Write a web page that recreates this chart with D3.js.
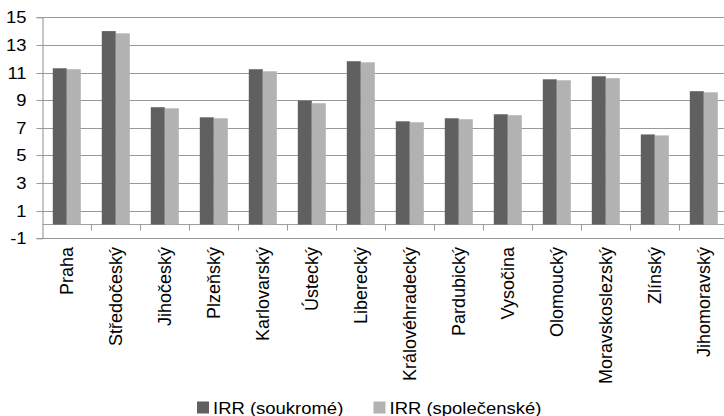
<!DOCTYPE html>
<html>
<head>
<meta charset="utf-8">
<script src="https://cdn.jsdelivr.net/npm/d3@7"></script>
<style>
  html, body { margin: 0; padding: 0; background: #fff; }
  svg { display: block; font-family: "Liberation Sans", Arial, sans-serif; }
</style>
</head>
<body>
<svg id="chart" width="724" height="416"></svg>
<script>
// Regions of the Czech Republic
const categories = ["Praha", "Středočeský", "Jihočeský", "Plzeňský", "Karlovarský", "Ústecký",
  "Liberecký", "Královéhradecký", "Pardubický", "Vysočina", "Olomoucký", "Moravskoslezský",
  "Zlínský", "Jihomoravský"];

const seriesNames = ["IRR (soukromé)", "IRR (společenské)"];

const irrSoukrome = [11.31, 14.0, 8.49, 7.76, 11.24, 8.97, 11.82, 7.47, 7.69, 7.98, 10.51, 10.73, 6.52, 9.65];
const irrSpolecenske = [11.24, 13.84, 8.41, 7.69, 11.09, 8.78, 11.74, 7.40, 7.62, 7.91, 10.44, 10.59, 6.45, 9.57];

const yTicks = [-1, 1, 3, 5, 7, 9, 11, 13, 15];
const yDomain = [-1, 15];

const colors = ["#606060", "#b2b2b2"];

const seriesValues = [irrSoukrome, irrSpolecenske];
const rows = categories.map((c, i) => ({
  category: c,
  values: seriesNames.map((s, j) => ({ series: s, value: seriesValues[j][i] }))
}));

const svg = d3.select("#chart");

const plotLeft = 42.3, plotTop = 17.3, plotBottom = 238.3;
const step = 49;
const plotRight = plotLeft + step * categories.length;

const y = d3.scaleLinear().domain(yDomain).range([plotBottom, plotTop]);
const x0 = d3.scaleBand().domain(categories).range([plotLeft, plotRight]).padding(0);
const x1 = d3.scaleBand().domain(seriesNames).range([0, x0.bandwidth()])
  .paddingInner(0).paddingOuter(0.75);
const color = d3.scaleOrdinal().domain(seriesNames).range(colors);

// horizontal gridlines
svg.append("g")
  .selectAll("line")
  .data(yTicks)
  .join("line")
  .attr("x1", plotLeft).attr("x2", plotRight)
  .attr("y1", d => Math.round(y(d)) + 0.5).attr("y2", d => Math.round(y(d)) + 0.5)
  .attr("stroke", "#999")
  .attr("stroke-width", 1);

// value axis
const yAxis = d3.axisLeft(y).tickValues(yTicks).tickSize(6).tickPadding(10).tickFormat(d => String(d));
const gy = svg.append("g")
  .attr("transform", `translate(${Math.round(plotLeft) + 0.5},0)`)
  .call(yAxis);
gy.select(".domain").attr("stroke", "#8c8c8c");
gy.selectAll(".tick line").attr("stroke", "#999");
gy.selectAll(".tick").attr("transform", d => `translate(0,${Math.round(y(d)) + 0.5})`);
gy.selectAll(".tick text")
  .attr("x", null)
  .attr("transform", "translate(-16,0) scale(1.15,1)")
  .attr("fill", "#000")
  .style("font-size", "16px")
  .style("font-family", "'Liberation Sans', Arial, sans-serif");

// category axis sitting at zero
const y0 = Math.round(y(0)) + 0.5;
svg.append("line")
  .attr("x1", plotLeft).attr("x2", plotRight)
  .attr("y1", y0).attr("y2", y0)
  .attr("stroke", "#a0a0a0");

const boundaries = categories.slice(1).map(c => x0(c));
svg.append("g")
  .selectAll("line")
  .data(boundaries)
  .join("line")
  .attr("x1", d => Math.round(d) + 0.5).attr("x2", d => Math.round(d) + 0.5)
  .attr("y1", y0).attr("y2", y0 + 6)
  .attr("stroke", "#999");

// bars
svg.append("g")
  .selectAll("g")
  .data(rows)
  .join("g")
  .attr("transform", d => `translate(${x0(d.category)},0)`)
  .selectAll("rect")
  .data(d => d.values)
  .join("rect")
  .attr("x", d => x1(d.series))
  .attr("width", x1.bandwidth())
  .attr("y", d => y(Math.max(0, d.value)))
  .attr("height", d => Math.abs(y(d.value) - y(0)))
  .attr("fill", d => color(d.series));

// category labels, rotated
svg.append("g")
  .selectAll("text")
  .data(categories)
  .join("text")
  .attr("transform", d => `translate(${x0(d) + x0.bandwidth() / 2 - 0.5},247) rotate(-90)`)
  .attr("text-anchor", "end")
  .attr("dy", "0.36em")
  .style("font-size", "18px")
  .attr("fill", "#000")
  .text(d => d);

// legend
const legendX = [197, 373.5];
const legend = svg.append("g")
  .selectAll("g")
  .data(seriesNames)
  .join("g")
  .attr("transform", (d, i) => `translate(${legendX[i]},401.5)`);
legend.append("rect")
  .attr("width", 12).attr("height", 12)
  .attr("fill", d => color(d));
legend.append("text")
  .attr("transform", "translate(16,12) scale(1.12,1)")
  .style("font-size", "16.5px")
  .attr("fill", "#000")
  .text(d => d);
</script>
</body>
</html>
